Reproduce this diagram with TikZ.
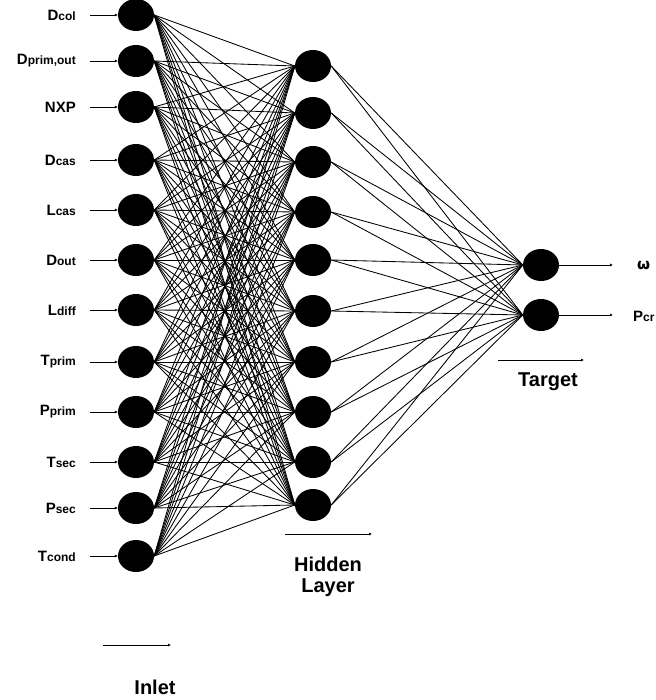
\documentclass[tikz,border=0pt]{standalone}
\usepackage{fontspec}
\setmainfont{Liberation Sans}
\newfontfamily\symfont{DejaVu Sans}
\usetikzlibrary{arrows.meta,shapes.geometric}
\newcommand{\lab}[2]{#1{\fontsize{12}{14}\selectfont #2}}
\begin{document}
\begin{tikzpicture}[x=1pt,y=-1pt,
  neuron/.style={ellipse,fill=black,minimum width=36pt,minimum height=32pt,inner sep=0pt},
  conn/.style={line width=0.85pt},
  inarrow/.style={line width=0.9pt,-{Latex[length=3pt,width=3pt]}},
  lblstyle/.style={font=\bfseries\fontsize{15}{17}\selectfont, anchor=east, inner sep=0pt},
  layertext/.style={font=\bfseries\fontsize{20}{21}\selectfont, align=center, inner sep=0pt}]
\useasboundingbox (0,0) rectangle (655,700);

% input layer
\foreach \i/\y/\t in {1/15/\lab{D}{col},2/61/\lab{D}{prim,out},3/107/NXP,4/160/\lab{D}{cas},5/210/\lab{L}{cas},6/260/\lab{D}{out},7/310/\lab{L}{diff},8/362/\lab{T}{prim},9/412/\lab{P}{prim},10/462/\lab{T}{sec},11/508/\lab{P}{sec},12/556/\lab{T}{cond}}{
  \node[neuron] (i\i) at (136,\y) {};
  \coordinate (s\i) at (90,\y);
  \node[lblstyle] (l\i) at (76,\y) {\t};
  \draw[inarrow] (s\i) -- (i\i.west);
}

% hidden layer
\foreach \j/\y in {1/66,2/113,3/162,4/212,5/260,6/311,7/362,8/412,9/462,10/505}{
  \node[neuron] (h\j) at (313,\y) {};
}

% output layer
\node[neuron] (o1) at (541,265) {};
\node[neuron] (o2) at (541,315) {};

% connections
\foreach \i in {1,...,12}{
  \foreach \j in {1,...,10}{
    \draw[conn] (i\i.east) -- (h\j.west);
  }
}
\foreach \j in {1,...,10}{
  \foreach \k in {1,2}{
    \draw[conn] (h\j.east) -- (o\k.west);
  }
}

% outputs
\coordinate (e1) at (613,265);
\coordinate (e2) at (613,315);
\draw[inarrow] (o1.east) -- (e1);
\draw[inarrow] (o2.east) -- (e2);
\node[font=\bfseries\fontsize{15}{17}\selectfont\symfont, anchor=west, inner sep=0pt] (w) at (637,266) {ω};
\node[lblstyle, anchor=west] (pcr) at (633,316) {\lab{P}{cr}};

% layer captions
\coordinate (ia) at (103,645); \coordinate (ib) at (171,645);
\draw[inarrow] (ia) -- (ib);
\node[layertext] (inlet) at (155,687) {Inlet};
\coordinate (ha) at (285,534); \coordinate (hb) at (372,534);
\draw[inarrow] (ha) -- (hb);
\node[layertext] (hid) at (328,577) {Hidden\\Layer};
\coordinate (ta) at (498,360); \coordinate (tb) at (584,360);
\draw[inarrow] (ta) -- (tb);
\node[layertext] (tgt) at (548,382) {Target};
\end{tikzpicture}
\end{document}
